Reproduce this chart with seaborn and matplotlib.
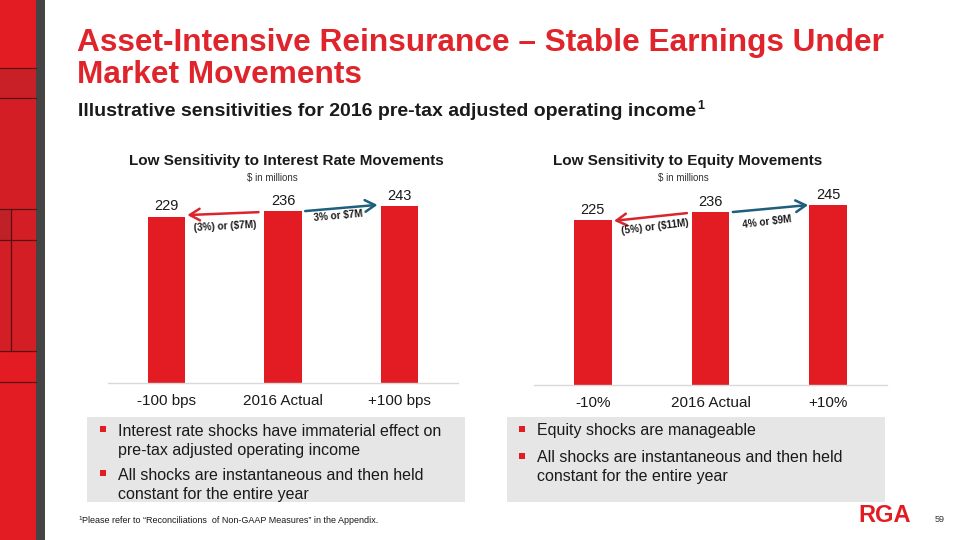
import matplotlib
matplotlib.use("Agg")
import matplotlib.pyplot as plt
from matplotlib.patches import Rectangle
import seaborn as sns
import pandas as pd

# ---------------- data ----------------
rate_categories = ["-100 bps", "2016 Actual", "+100 bps"]
rate_values = [229, 236, 243]
equity_categories = ["-10%", "2016 Actual", "+10%"]
equity_values = [225, 236, 245]
rate_change_labels = ["(3%) or ($7M)", "3% or $7M"]
equity_change_labels = ["(5%) or ($11M)", "4% or $9M"]

title_lines = ["Asset-Intensive Reinsurance \u2013 Stable Earnings Under", "Market Movements"]
subtitle = "Illustrative sensitivities for 2016 pre-tax adjusted operating income"
left_title = "Low Sensitivity to Interest Rate Movements"
right_title = "Low Sensitivity to Equity Movements"
units = "$ in millions"
left_bullets = [["Interest rate shocks have immaterial effect on", "pre-tax adjusted operating income"],
                ["All shocks are instantaneous and then held", "constant for the entire year"]]
right_bullets = [["Equity shocks are manageable"],
                 ["All shocks are instantaneous and then held", "constant for the entire year"]]
footnote = "Please refer to \u201cReconciliations  of Non-GAAP Measures\u201d in the Appendix."

RED = "#e31b23"
TITLE_RED = "#e0242b"
ARROW_RED = "#d9262e"
ARROW_BLUE = "#1d5f7c"
DARK = "#1a1a1a"

sns.set_theme(style="white")
plt.rcParams["font.family"] = ["Liberation Sans", "DejaVu Sans"]

W, H = 960, 540
fig = plt.figure(figsize=(9.6, 5.4), dpi=100)

def fx(px):
    return px / W

def fy(py):
    return 1 - py / H

# ---------------- left decorative strip ----------------
fig.patches.append(Rectangle((0, 0), fx(36), 1, transform=fig.transFigure,
                             facecolor=RED, edgecolor="none", zorder=0))
fig.patches.append(Rectangle((0, fy(98)), fx(36), (98 - 68) / H, transform=fig.transFigure,
                             facecolor="#b9252d", edgecolor="none", alpha=0.6, zorder=0))
fig.patches.append(Rectangle((0, fy(240)), fx(11), (240 - 209) / H, transform=fig.transFigure,
                             facecolor="#a8262d", edgecolor="none", alpha=0.6, zorder=0))
fig.patches.append(Rectangle((0, fy(351)), fx(36), (351 - 98) / H, transform=fig.transFigure,
                             facecolor="#c3222a", edgecolor="none", alpha=0.45, zorder=0))
fig.patches.append(Rectangle((fx(36), 0), fx(9), 1, transform=fig.transFigure,
                             facecolor="#444444", edgecolor="none", zorder=0))
for yy in [68, 98, 209, 240, 351, 382]:
    fig.add_artist(plt.Line2D([0, fx(36)], [fy(yy), fy(yy)], transform=fig.transFigure,
                              color="#5a0f13", lw=0.9))
fig.add_artist(plt.Line2D([fx(11), fx(11)], [fy(209), fy(351)], transform=fig.transFigure,
                          color="#5a0f13", lw=0.9))

# ---------------- titles ----------------
fig.text(fx(77), fy(51), title_lines[0], fontsize=22.8, fontweight="bold", color=TITLE_RED,
         va="baseline", ha="left")
fig.text(fx(77), fy(83), title_lines[1], fontsize=22.8, fontweight="bold", color=TITLE_RED,
         va="baseline", ha="left")
sub = fig.text(fx(78), fy(116), subtitle, fontsize=14, fontweight="bold", color=DARK,
               va="baseline", ha="left")
fig.canvas.draw()
bb = sub.get_window_extent()
fig.text(bb.x1 / W + 0.001, fy(116) + 7 / H, "1", fontsize=9, fontweight="bold",
         color=DARK, va="baseline", ha="left")

# ---------------- bar charts ----------------
SCALE_L = 0.727  # px per unit
SCALE_R = 0.733
YMAX = 262

ax1 = fig.add_axes([fx(108), fy(383), fx(350), YMAX * SCALE_L / H])
ax2 = fig.add_axes([fx(534), fy(385), fx(353), YMAX * SCALE_R / H])

def draw_panel(ax, cats, vals, title, title_cx, units_cx):
    df = pd.DataFrame({"cat": cats, "val": vals})
    sns.barplot(data=df, x="cat", y="val", ax=ax, color=RED, width=0.32,
                saturation=1, edgecolor="none")
    ax.set_ylim(0, YMAX)
    ax.set_xlim(-0.5, 2.5)
    ax.set_xlabel("")
    ax.set_ylabel("")
    ax.set_yticks([])
    for s in ["top", "left", "right"]:
        ax.spines[s].set_visible(False)
    ax.spines["bottom"].set_color("#d9d9d9")
    ax.spines["bottom"].set_linewidth(1.0)
    ax.tick_params(axis="x", length=0, labelsize=11, colors=DARK, pad=8)
    for i, v in enumerate(vals):
        ax.annotate(str(v), (i, v), xytext=(0, 2.5), textcoords="offset points",
                    ha="center", va="bottom", fontsize=10.5, color=DARK)
    fig.text(fx(title_cx), fy(161), title, fontsize=11, fontweight="bold", color=DARK,
             ha="center", va="center")
    fig.text(fx(units_cx), fy(178), units, fontsize=7, color="#333333",
             ha="center", va="center")
    return ax

draw_panel(ax1, rate_categories, rate_values, left_title, 286, 272)
draw_panel(ax2, equity_categories, equity_values, right_title, 688, 683)

def arrow(ax, start, end, color):
    ax.annotate("", xy=end, xytext=start,
                arrowprops=dict(arrowstyle="->,head_length=0.6,head_width=0.35",
                                color=color, lw=1.8, shrinkA=0, shrinkB=0))

# left panel arrows (data coords)
v = rate_values
arrow(ax1, (0.79, v[1] - 1), (0.18, v[0] + 2), ARROW_RED)
arrow(ax1, (1.19, v[1] + 0.5), (1.81, v[2] + 2), ARROW_BLUE)
ax1.text(0.50, v[0] - 14, rate_change_labels[0], fontsize=7.2, fontweight="bold",
         color=DARK, ha="center", va="center", rotation=3)
ax1.text(1.47, v[1] - 6, rate_change_labels[1], fontsize=7.2, fontweight="bold",
         color=DARK, ha="center", va="center", rotation=5)

# right panel arrows
v = equity_values
arrow(ax2, (0.80, v[1] - 1.5), (0.18, v[0] - 1), ARROW_RED)
arrow(ax2, (1.19, v[1]), (1.83, v[2] + 0.5), ARROW_BLUE)
ax2.text(0.53, v[0] - 10, equity_change_labels[0], fontsize=7.2, fontweight="bold",
         color=DARK, ha="center", va="center", rotation=7)
ax2.text(1.48, v[1] - 13, equity_change_labels[1], fontsize=7.2, fontweight="bold",
         color=DARK, ha="center", va="center", rotation=7)

# ---------------- bullet boxes ----------------
def bullet_box(x0, x1, bullet_x, text_x, groups, line_ys):
    fig.patches.append(Rectangle((fx(x0), fy(502)), fx(x1 - x0), (502 - 417) / H,
                                 transform=fig.transFigure, facecolor="#e6e6e6",
                                 edgecolor="none", zorder=0))
    k = 0
    for g in groups:
        for j, line in enumerate(g):
            yy = line_ys[k]
            if j == 0:
                fig.patches.append(Rectangle((fx(bullet_x), fy(yy + 1)), fx(6), 6 / H,
                                             transform=fig.transFigure, facecolor=RED,
                                             edgecolor="none", zorder=1))
            fig.text(fx(text_x), fy(yy), line, fontsize=11.5, color=DARK,
                     ha="left", va="center")
            k += 1

bullet_box(87, 465, 100, 118, left_bullets, [431, 450, 475, 494])
bullet_box(507, 885, 519, 537, right_bullets, [431, 458, 477])

# ---------------- footer ----------------
fig.text(fx(78), fy(520), "1", fontsize=4.5, color=DARK, ha="left", va="baseline")
fig.text(fx(82), fy(523), footnote, fontsize=6.5, color=DARK, ha="left", va="baseline")
fig.text(fx(885), fy(515), "RGA", fontsize=17, fontweight="bold", color=RED,
         ha="center", va="center", fontstretch="condensed")
fig.text(fx(940), fy(520), "59", fontsize=6.5, color="#333333", ha="center", va="center")

fig.savefig("out.png", dpi=100)
